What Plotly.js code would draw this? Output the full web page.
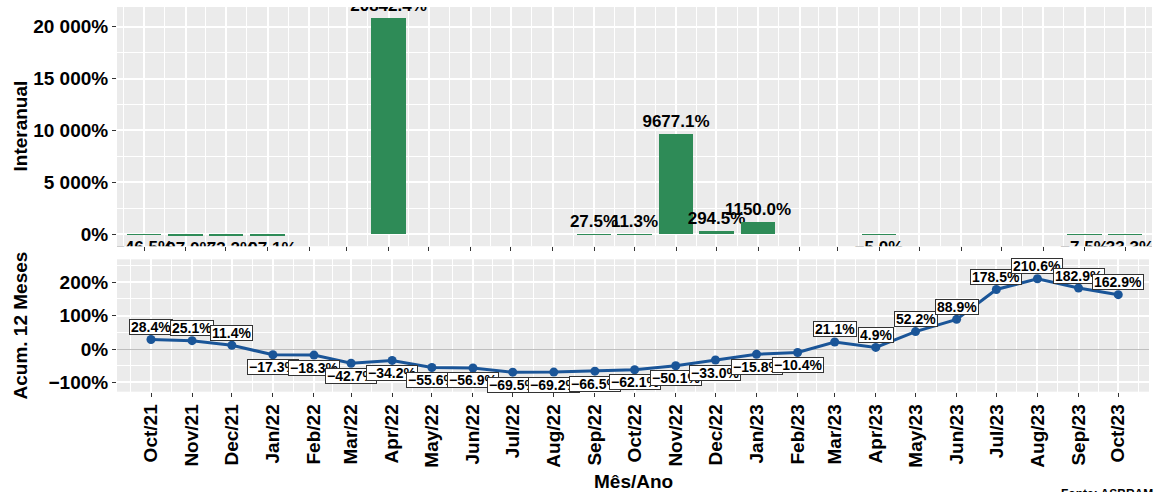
<!DOCTYPE html>
<html>
<head>
<meta charset="utf-8">
<script src="https://cdn.plot.ly/plotly-3.0.1.min.js"></script>
<style>html,body{margin:0;padding:0;background:#fff;}#chart{width:1154px;height:492px;}</style>
</head>
<body>
<div id="chart"></div>
<script>
// ---- data ----
const months = ['2021-10-01','2021-11-01','2021-12-01','2022-01-01','2022-02-01','2022-03-01','2022-04-01',
  '2022-05-01','2022-06-01','2022-07-01','2022-08-01','2022-09-01','2022-10-01','2022-11-01','2022-12-01',
  '2023-01-01','2023-02-01','2023-03-01','2023-04-01','2023-05-01','2023-06-01','2023-07-01','2023-08-01',
  '2023-09-01','2023-10-01'];
const monthLabels = ['Oct/21','Nov/21','Dec/21','Jan/22','Feb/22','Mar/22','Apr/22','May/22','Jun/22','Jul/22',
  'Aug/22','Sep/22','Oct/22','Nov/22','Dec/22','Jan/23','Feb/23','Mar/23','Apr/23','May/23','Jun/23','Jul/23',
  'Aug/23','Sep/23','Oct/23'];
const interanual = [-46.5,-97.0,-73.2,-97.1,null,null,20842.4,null,null,null,null,27.5,11.3,9677.1,294.5,
  1150.0,null,null,-5.0,null,null,null,null,-7.5,-33.3];
const acum12 = [28.4,25.1,11.4,-17.3,-18.3,-42.7,-34.2,-55.6,-56.9,-69.5,-69.2,-66.5,-62.1,-50.1,-33.0,
  -15.8,-10.4,21.1,4.9,52.2,88.9,178.5,210.6,182.9,162.9];
const topTickVals = [0,5000,10000,15000,20000];
const topTickText = ['0%','5 000%','10 000%','15 000%','20 000%'];
const topMinorVals = [2500,7500,12500,17500];
const botTickVals = [-100,0,100,200];
const botTickText = ['\u2212100%','0%','100%','200%'];
const botMinorVals = [-50,50,150,250];

// ---- helpers ----
const FONT = 'Liberation Sans, Arial, sans-serif';
function fmt(v){ const s = Math.abs(v).toFixed(1) + '%'; return v < 0 ? '\u2212' + s : s; }
function toISO(ms){ return new Date(ms).toISOString().slice(0,19).replace('T',' '); }
const msArr = months.map(d => Date.parse(d + 'T00:00:00Z'));
const minorX = [];
minorX.push(toISO(msArr[0] - (msArr[1]-msArr[0])/2));
for (let i=0;i<msArr.length-1;i++) minorX.push(toISO((msArr[i]+msArr[i+1])/2));
minorX.push(toISO(msArr[msArr.length-1] + (msArr[msArr.length-1]-msArr[msArr.length-2])/2));

const DAY = 86400000;
const W = 1154, H = 492, ML = 117;
function px2paperX(p){ return (p - ML) / (W - ML); }
function px2paperY(p){ return 1 - p / H; }

const barTrace = {
  type:'bar', x: months, y: interanual, xaxis:'x', yaxis:'y',
  width: 25.6*DAY,
  marker:{color:'#2E8B57'},
  text: interanual.map(v => v===null ? '' : fmt(v)),
  textposition:'outside', constraintext:'none', cliponaxis:true,
  textfont:{family:FONT, size:17, color:'#000', weight:'bold'},
  hoverinfo:'skip', showlegend:false
};
const lineTrace = {
  type:'scatter', mode:'lines+markers', x: months, y: acum12, xaxis:'x2', yaxis:'y2',
  line:{color:'#1A5598', width:3}, marker:{color:'#1A5598', size:9},
  hoverinfo:'skip', showlegend:false, cliponaxis:false
};

const annotations = acum12.map((v,i) => ({
  x: months[i], y: v, xref:'x2', yref:'y2', text: fmt(v), showarrow:false,
  yshift: v >= 0 ? 12.5 : -12.5,
  bgcolor:'#ffffff', bordercolor:'#333333', borderwidth:1, borderpad:1, height:12,
  font:{family:FONT, size:14, color:'#000', weight:'bold'}
}));
annotations.push({text:'Interanual', xref:'paper', yref:'paper', x: px2paperX(20), y: px2paperY(126.5),
  textangle:-90, showarrow:false, xanchor:'center', yanchor:'middle',
  font:{family:FONT, size:19, color:'#000', weight:'bold'}});
annotations.push({text:'Acum. 12 Meses', xref:'paper', yref:'paper', x: px2paperX(20), y: px2paperY(325.5),
  textangle:-90, showarrow:false, xanchor:'center', yanchor:'middle',
  font:{family:FONT, size:19, color:'#000', weight:'bold'}});
annotations.push({text:'Mês/Ano', xref:'paper', yref:'paper', x: px2paperX(633), y: px2paperY(481),
  showarrow:false, xanchor:'center', yanchor:'middle',
  font:{family:FONT, size:19, color:'#000', weight:'bold'}});
annotations.push({text:'Fonte: ASBRAM', xref:'paper', yref:'paper', x: px2paperX(1060), y: px2paperY(486),
  showarrow:false, xanchor:'left', yanchor:'top', borderpad:0,
  font:{family:FONT, size:12, color:'#000', weight:'bold'}});

const xCommon = {
  type:'date', tickmode:'array', tickvals: months, ticktext: monthLabels,
  ticks:'outside', ticklen:4, tickcolor:'#333333', tickwidth:1,
  showgrid:true, gridcolor:'#ffffff', gridwidth:1.6, zeroline:false, showline:false,
  minor:{tickmode:'array', tickvals: minorX, showgrid:true, gridcolor:'#ffffff', gridwidth:0.8, ticklen:0},
  automargin:false, fixedrange:true
};
const layout = {
  width:W, height:H, margin:{l:ML, r:0, t:0, b:0},
  paper_bgcolor:'#ffffff', plot_bgcolor:'#EBEBEB',
  showlegend:false, bargap:0, dragmode:false, hovermode:false,
  xaxis: Object.assign({}, xCommon, {
    domain:[0, px2paperX(1152)], anchor:'y',
    range:[toISO(msArr[0]-20.09*DAY), toISO(msArr[24]+20.09*DAY)],
    showticklabels:false
  }),
  xaxis2: Object.assign({}, xCommon, {
    domain:[0, px2paperX(1149)], anchor:'y2',
    range:[toISO(msArr[0]-25.66*DAY), toISO(msArr[24]+23.2*DAY)],
    showticklabels:true, tickangle:-90,
    tickfont:{family:FONT, size:19, color:'#000', weight:'bold'}
  }),
  yaxis: {
    domain:[px2paperY(246.2), px2paperY(7)], anchor:'x', range:[-1144, 21889],
    tickmode:'array', tickvals: topTickVals, ticktext: topTickText,
    ticks:'outside', ticklen:4, tickcolor:'#333333', tickwidth:1,
    tickfont:{family:FONT, size:19, color:'#000', weight:'bold'},
    showgrid:true, gridcolor:'#ffffff', gridwidth:1.6, zeroline:false, showline:false,
    minor:{tickmode:'array', tickvals: topMinorVals, showgrid:true, gridcolor:'#ffffff', gridwidth:0.8, ticklen:0},
    automargin:false, fixedrange:true
  },
  yaxis2: {
    domain:[px2paperY(391.7), px2paperY(259.3)], anchor:'x2', range:[-128, 269],
    tickmode:'array', tickvals: botTickVals, ticktext: botTickText,
    ticks:'outside', ticklen:4, tickcolor:'#333333', tickwidth:1,
    tickfont:{family:FONT, size:19, color:'#000', weight:'bold'},
    showgrid:true, gridcolor:'#ffffff', gridwidth:1.6,
    zeroline:true, zerolinecolor:'#BEBEBE', zerolinewidth:1.2, showline:false,
    minor:{tickmode:'array', tickvals: botMinorVals, showgrid:true, gridcolor:'#ffffff', gridwidth:0.8, ticklen:0},
    automargin:false, fixedrange:true
  },
  annotations: annotations
};
Plotly.newPlot('chart', [barTrace, lineTrace], layout, {displayModeBar:false, responsive:false});
</script>
</body>
</html>
